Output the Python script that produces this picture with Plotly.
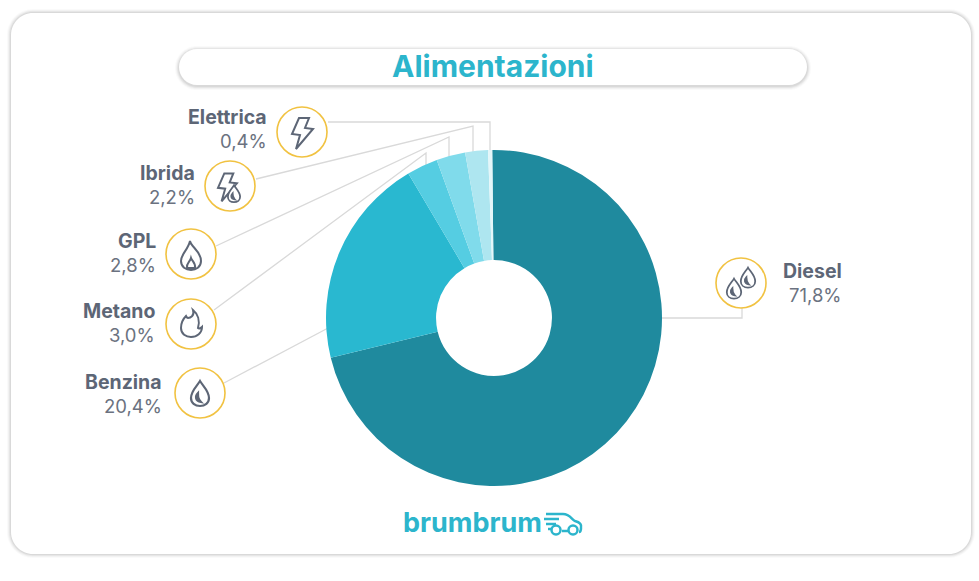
import plotly.graph_objects as go

# Fuel share of the catalogue, percent
categories = ["Diesel", "Benzina", "Metano", "GPL", "Ibrida", "Elettrica"]
shares = [71.8, 20.4, 3.0, 2.8, 2.2, 0.4]
share_labels = ["71,8%", "20,4%", "3,0%", "2,8%", "2,2%", "0,4%"]
slice_colors = ["#1f8a9e", "#29b8d0", "#55cde2", "#80dbeb", "#aee6f0", "#e4f6f9"]

W, H = 979, 581
TEAL = "#2cb5cc"
GREY = "#5d6676"
GOLD = "#f1c241"
LEADER = "#d9d9d9"
FONT = "Inter"

CX, CY, R = 494, 318, 168


def rounded(x0, y0, x1, y1, r):
    k = r * 0.45
    return (
        f"M{x0+r},{y0} L{x1-r},{y0} C{x1-k},{y0} {x1},{y0+k} {x1},{y0+r} "
        f"L{x1},{y1-r} C{x1},{y1-k} {x1-k},{y1} {x1-r},{y1} "
        f"L{x0+r},{y1} C{x0+k},{y1} {x0},{y1-k} {x0},{y1-r} "
        f"L{x0},{y0+r} C{x0},{y0+k} {x0+k},{y0} {x0+r},{y0} Z"
    )


def drop(cx, cy, s=1.0):
    """Outlined droplet with a small inner crescent."""
    p = lambda dx, dy: f"{cx+dx*s:.1f},{cy+dy*s:.1f}"
    outer = (
        f"M{p(0,-13)} C{p(3,-8)} {p(9,-3)} {p(9,4)} "
        f"C{p(9,9)} {p(5,12)} {p(0,12)} C{p(-5,12)} {p(-9,9)} {p(-9,4)} "
        f"C{p(-9,-3)} {p(-3,-8)} {p(0,-13)} Z"
    )
    inner = f"M{p(-2,-1)} C{p(-5,2)} {p(-5,7)} {p(1,8)} C{p(-2,5)} {p(-2,3)} {p(-2,-1)} Z"
    return outer, inner


def bolt(cx, cy, s=1.0):
    p = lambda dx, dy: f"{cx+dx*s:.1f},{cy+dy*s:.1f}"
    return (
        f"M{p(-3,-14)} L{p(7,-14)} L{p(3,-4)} L{p(11,-3)} L{p(-6,17)} "
        f"L{p(-2,3)} L{p(-10,2)} Z"
    )


def flame(cx, cy):
    p = lambda dx, dy: f"{cx+dx:.1f},{cy+dy:.1f}"
    return (
        f"M{p(2,-14)} C{p(4,-8)} {p(-1,-6)} {p(-3,-6)} C{p(-4,-6)} {p(-5,-8)} {p(-5,-8)} "
        f"C{p(-9,-4)} {p(-10,0)} {p(-10,4)} C{p(-10,10)} {p(-5,13)} {p(0,13)} "
        f"C{p(6,13)} {p(11,9)} {p(11,3)} C{p(10,4)} {p(8,5)} {p(7,4)} "
        f"C{p(9,-3)} {p(7,-10)} {p(2,-14)} Z"
    )


def gas_flame(cx, cy):
    p = lambda dx, dy: f"{cx+dx:.1f},{cy+dy:.1f}"
    outer = (
        f"M{p(-1,-15)} C{p(0,-9)} {p(10,-5)} {p(10,5)} C{p(10,11)} {p(5,14)} {p(0,14)} "
        f"C{p(-5,14)} {p(-10,11)} {p(-10,5)} C{p(-10,-2)} {p(-3,-6)} {p(-1,-15)} Z"
    )
    inner = f"M{p(0,2)} C{p(1,5)} {p(5,7)} {p(4,12)} L{p(-4,12)} C{p(-5,7)} {p(-1,6)} {p(0,2)} Z"
    return outer, inner


shapes = []


def add_path(path, line=None, fill=None, width=2, layer="below"):
    shapes.append(dict(
        type="path", xref="x", yref="y", path=path, layer=layer,
        line=dict(color=line or "rgba(0,0,0,0)", width=width),
        fillcolor=fill or "rgba(0,0,0,0)",
    ))


# Card and title pill with soft stacked shadows
for grow, alpha in [(4, 0.03), (3, 0.05), (2, 0.07), (1, 0.09)]:
    add_path(rounded(11 - grow, 13 - grow, 971 + grow, 554 + grow, 22 + grow),
             fill=f"rgba(90,90,90,{alpha})")
add_path(rounded(11, 13, 971, 554, 22), fill="#ffffff")
for grow, alpha in [(4, 0.03), (3, 0.05), (2, 0.07), (1, 0.09)]:
    add_path(rounded(179 - grow, 49 - grow + 1, 807 + grow, 85 + grow + 1, 18 + grow),
             fill=f"rgba(90,90,90,{alpha})")
add_path(rounded(179, 49, 807, 85, 18), fill="#ffffff")

# Leader lines from each badge to its slice
leaders = [
    "M328,122 L490,122 L490,152",
    "M256,179 L473,126 L473,153",
    "M216,246 L449,137 L449,157",
    "M214,310 L426,153 L426,168",
    "M224,383 L330,327",
    "M662,318 L742,318 L742,308",
]
for leg in leaders:
    add_path(leg, line=LEADER, width=1.3)

# Gold badges
badges = {
    "Elettrica": (302, 132), "Ibrida": (230, 186), "GPL": (191, 254),
    "Metano": (191, 324), "Benzina": (200, 393), "Diesel": (741, 283),
}
for cx, cy in badges.values():
    shapes.append(dict(type="circle", xref="x", yref="y", x0=cx - 25, x1=cx + 25,
                       y0=cy - 25, y1=cy + 25, layer="below",
                       fillcolor="#ffffff", line=dict(color=GOLD, width=1.6)))

# Badge glyphs
add_path(bolt(302, 132), line=GREY)
add_path(bolt(227, 186, 0.9), line=GREY)
for part, fill in zip(drop(234, 194, 0.68), ("#ffffff", GREY)):
    add_path(part, line=GREY, fill=fill, width=1.8)
for part in gas_flame(191, 256):
    add_path(part, line=GREY)
add_path(flame(191, 324), line=GREY)
for part, fill in zip(drop(200, 394), (None, GREY)):
    add_path(part, line=GREY, fill=fill, width=2.2)
for part, fill in zip(drop(734, 289, 0.8), (None, GREY)):
    add_path(part, line=GREY, fill=fill, width=1.8)
for part, fill in zip(drop(748, 278, 0.8), (None, GREY)):
    add_path(part, line=GREY, fill=fill, width=1.8)

# Logo car: body outline, speed lines on the left, two wheels
add_path("M546,514 L563,514 C570,514 572,520 575,521 C579,522 582,524 581,528 "
         "C581,531 580,532 579,532", line=TEAL, width=2.5)
add_path("M568,531 L562,531", line=TEAL, width=2.5)
add_path("M544,519 L559,519", line=TEAL, width=2.5)
add_path("M546,524 L556,524", line=TEAL, width=2.5)
add_path("M548,529 L551,529", line=TEAL, width=2.5)
for cx in (556, 573):
    shapes.append(dict(type="circle", xref="x", yref="y", x0=cx - 4.5, x1=cx + 4.5,
                       y0=525.5, y1=534.5, layer="below", fillcolor="rgba(0,0,0,0)",
                       line=dict(color=TEAL, width=2.5)))

# Text anchors: right edge of the label column, name centre, value centre
label_anchor = {
    "Elettrica": (269, 117, 141), "Ibrida": (197, 173, 197), "GPL": (158, 241, 265),
    "Metano": (157, 311, 335), "Benzina": (164, 382, 406), "Diesel": (844, 271, 295),
}
annotations = []


def add_text(x, y, text, size, color, anchor="right", weight="normal"):
    annotations.append(dict(
        x=x, y=y, xref="x", yref="y", text=text, showarrow=False,
        xanchor=anchor, yanchor="middle",
        font=dict(family=FONT, size=size, color=color, weight=weight),
    ))


for name, value in zip(categories, share_labels):
    x, y_name, y_value = label_anchor[name]
    add_text(x, y_name, name, 19.5, GREY, weight="bold")
    add_text(x, y_value, value, 18.5, "#6b7280")

add_text(493, 66, "Alimentazioni", 30, TEAL, anchor="center", weight="bold")
add_text(472, 522, "brumbrum", 27, TEAL, anchor="center", weight="bold")

fig = go.Figure()
fig.add_trace(go.Scatter(x=[], y=[], showlegend=False, hoverinfo="skip"))
fig.add_trace(go.Pie(
    labels=categories, values=shares, sort=False, direction="clockwise", rotation=-0.6,
    hole=0.345, textinfo="none", showlegend=False,
    marker=dict(colors=slice_colors, line=dict(color="#ffffff", width=0)),
    domain=dict(x=[(CX - R) / W, (CX + R) / W], y=[1 - (CY + R) / H, 1 - (CY - R) / H]),
))
fig.update_layout(
    width=W, height=H, margin=dict(l=0, r=0, t=0, b=0),
    paper_bgcolor="#ffffff", plot_bgcolor="rgba(0,0,0,0)",
    xaxis=dict(range=[0, W], visible=False, fixedrange=True),
    yaxis=dict(range=[H, 0], visible=False, fixedrange=True),
    shapes=shapes, annotations=annotations,
)
fig.write_html("out.html")
